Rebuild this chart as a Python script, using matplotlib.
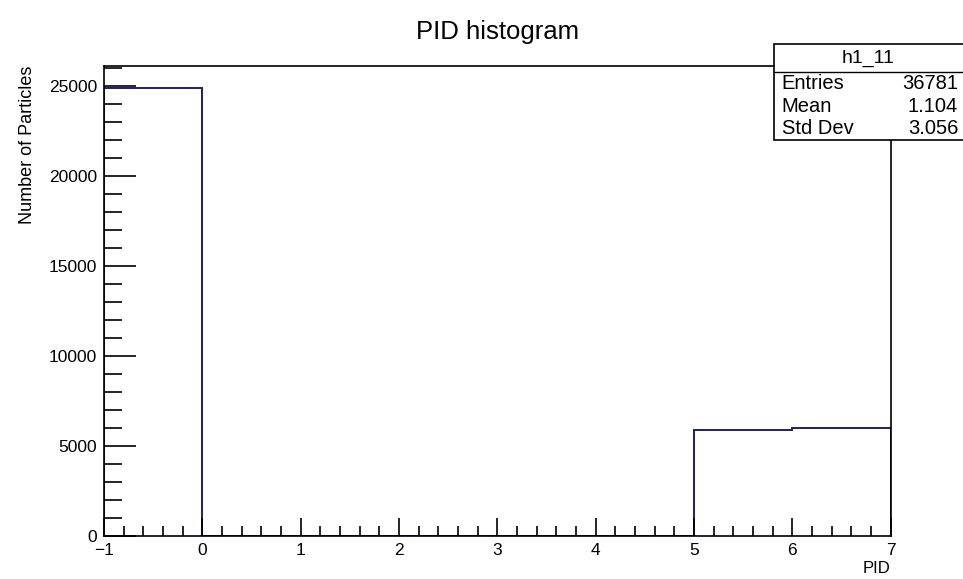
import matplotlib
matplotlib.use("Agg")
import matplotlib.pyplot as plt
from matplotlib.ticker import MultipleLocator, FuncFormatter
from matplotlib.patches import Rectangle

# Содержимое бинов гистограммы PID
bin_edges = [-1, 0, 1, 2, 3, 4, 5, 6, 7]
bin_counts = [24900, 0, 0, 0, 0, 0, 5900, 5981]

hist_name = "h1_11"
stat_labels = ["Entries", "Mean", "Std Dev"]
stat_values = ["36781", "1.104", "3.056"]

plt.rcParams["font.family"] = ["Liberation Sans", "DejaVu Sans"]

fig = plt.figure(figsize=(9.63, 5.79), dpi=100)
ax = fig.add_axes([0.108, 0.0743, 0.817, 0.812])

ax.stairs(bin_counts, bin_edges, color="#1c1c80", linewidth=1.4)

ax.set_xlim(bin_edges[0], bin_edges[-1])
ax.set_ylim(0, max(bin_counts) * 1.05)

ax.xaxis.set_major_locator(MultipleLocator(1))
ax.xaxis.set_minor_locator(MultipleLocator(0.2))
ax.yaxis.set_major_locator(MultipleLocator(5000))
ax.yaxis.set_minor_locator(MultipleLocator(1000))
ax.xaxis.set_major_formatter(FuncFormatter(lambda v, p: "\u2212" + str(int(round(-v))) if v < 0 else str(int(round(v)))))
ax.yaxis.set_major_formatter(FuncFormatter(lambda v, p: str(int(round(v)))))

ax.tick_params(axis="both", which="both", direction="in", top=False, right=False,
               labelsize=12.5, width=1.2, colors="black")
ax.tick_params(axis="y", which="major", length=23, pad=5)
ax.tick_params(axis="y", which="minor", length=13)
ax.tick_params(axis="x", which="major", length=13, pad=5)
ax.tick_params(axis="x", which="minor", length=7)

for s in ax.spines.values():
    s.set_linewidth(1.2)

ax.set_xlabel("PID", fontsize=12, loc="right", labelpad=2)
ax.set_ylabel("Number of Particles", fontsize=13, loc="top", labelpad=9)

fig.text(0.517, 0.945, "PID histogram", ha="center", va="center", fontsize=18.5)

# Блок статистики в стиле ROOT
x0, x1 = 0.8037, 1.01
y_top, y_sep, y_bot = 0.924, 0.8756, 0.758
fig.patches.append(Rectangle((x0, y_bot), x1 - x0, y_top - y_bot, transform=fig.transFigure,
                             facecolor="white", edgecolor="black", linewidth=1.2, zorder=5))
fig.add_artist(plt.Line2D([x0, x1], [y_sep, y_sep], transform=fig.transFigure,
                          color="black", linewidth=1.0, zorder=6))
fig.text((x0 + 0.9995) / 2, (y_top + y_sep) / 2, hist_name, ha="center", va="center",
         fontsize=14, zorder=7)
row_h = (y_sep - y_bot) / len(stat_labels)
for i, (lab, val) in enumerate(zip(stat_labels, stat_values)):
    yy = y_sep - row_h * (i + 0.5)
    fig.text(x0 + 0.008, yy, lab, ha="left", va="center", fontsize=14.5, zorder=7)
    fig.text(0.995, yy, val, ha="right", va="center", fontsize=14.5, zorder=7)

fig.savefig("out.png", dpi=100)
